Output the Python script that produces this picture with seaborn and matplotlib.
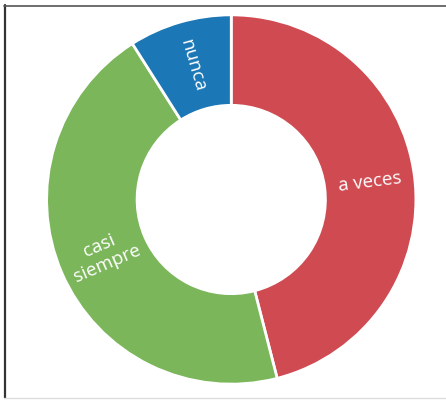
import matplotlib
matplotlib.use("Agg")
import matplotlib.pyplot as plt
import seaborn as sns
import numpy as np
from matplotlib.lines import Line2D

categories = ["a veces", "casi siempre", "nunca"]
label_texts = ["a veces", "casi\nsiempre", "nunca"]
values = [46, 45, 9]
colors = ["#cf4a51", "#7bb65b", "#1b77b5"]

sns.set_theme(style="white")
plt.rcParams['font.family'] = ['Open Sans', 'DejaVu Sans']

fig = plt.figure(figsize=(4.46, 4.00), dpi=100)
fig.patch.set_facecolor("white")
ax = fig.add_axes([0.1045, 0.0395, 0.828, 0.9235])

wedges, _ = ax.pie(values, colors=colors, startangle=90, counterclock=False,
                   radius=1.0,
                   wedgeprops=dict(width=0.49, edgecolor="white", linewidth=2))

r_mid = 1.0 - 0.49 / 2
for w, txt in zip(wedges, label_texts):
    ang = (w.theta1 + w.theta2) / 2.0
    x = r_mid * np.cos(np.deg2rad(ang))
    y = r_mid * np.sin(np.deg2rad(ang))
    rot = ang
    a = ang % 360
    if 90 < a < 270:
        rot = a - 180
    elif a >= 270:
        rot = a - 360
    ax.text(x, y, txt, color="white", fontsize=13.5, ha="center", va="center",
            rotation=rot, rotation_mode="anchor", linespacing=1.05)

ax.set_xlim(-1, 1)
ax.set_ylim(-1, 1)
ax.set_aspect("equal")
ax.axis("off")

# frame lines of the original screenshot
fig.add_artist(Line2D([4.5/446, 4.5/446], [1 - 5/400, 1 - 398/400], color="#333333", lw=1.6, transform=fig.transFigure))
fig.add_artist(Line2D([4/446, 1.0], [1 - 5.5/400, 1 - 5.5/400], color="#555555", lw=1.2, transform=fig.transFigure))
fig.add_artist(Line2D([4/446, 1.0], [1 - 398/400, 1 - 398/400], color="#dddddd", lw=1.0, transform=fig.transFigure))

fig.savefig("out.png", dpi=100, facecolor="white")
